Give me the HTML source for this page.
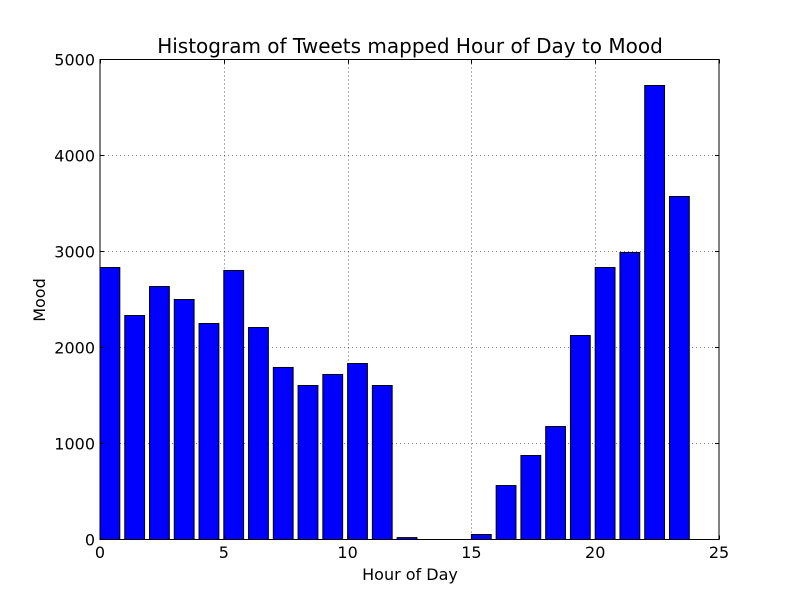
<!DOCTYPE html>
<html><head><meta charset="utf-8"><style>
html,body{margin:0;padding:0;background:#fff;}
svg{display:block;font-family:"DejaVu Sans","Liberation Sans",sans-serif;}
</style></head><body>
<svg id="chart" width="800" height="600" xmlns="http://www.w3.org/2000/svg">
<rect x="0" y="0" width="800" height="600" fill="#fff"/>
<g id="grid"></g>
<g id="bars"></g>
<rect x="100" y="59.5" width="619" height="480" fill="none" stroke="#000" stroke-width="1"/>
<g id="ticks"></g>
<text x="410" y="53" text-anchor="middle" font-size="20">Histogram of Tweets mapped Hour of Day to Mood</text>
<text x="410" y="580" text-anchor="middle" font-size="16">Hour of Day</text>
<text x="45" y="300" text-anchor="middle" font-size="16" transform="rotate(-90 45 300)">Mood</text>
</svg>
<script>
const hours = [0,1,2,3,4,5,6,7,8,9,10,11,12,13,14,15,16,17,18,19,20,21,22,23];
const moodValues = [2833,2333,2635,2500,2250,2802,2208,1792,1604,1719,1833,1604,20,0,0,52,562,875,1177,2125,2833,2990,4729,3573];
const xTicks = [0,5,10,15,20,25];
const yTicks = [0,1000,2000,3000,4000,5000];
const barWidth = 0.8;

const NS = "http://www.w3.org/2000/svg";
const X0 = 100, X1 = 719, Y0 = 539.5, Y1 = 59.5;
const xScale = v => X0 + (v - 0) / 25 * (X1 - X0);
const yScale = v => Y0 - v / 5000 * (Y0 - Y1);
function mk(tag, attrs, parent) {
  const e = document.createElementNS(NS, tag);
  for (const k in attrs) e.setAttribute(k, attrs[k]);
  parent.appendChild(e);
  return e;
}
const grid = document.getElementById('grid');
const ticks = document.getElementById('ticks');
const bars = document.getElementById('bars');

xTicks.forEach(t => {
  const x = Math.round(xScale(t)) + 0.5;
  if (t > 0 && t < 25) {
    const g = mk('line', {x1:x, x2:x, y1:Y1, y2:Y0, stroke:'#000', 'stroke-width':0.6, 'stroke-dasharray':'1,3'}, grid);
    
    
  }
  const a = mk('line', {x1:x, x2:x, y1:Y0, y2:Y0-4, stroke:'#000'}, ticks);
  
  
  const b = mk('line', {x1:x, x2:x, y1:Y1, y2:Y1+4, stroke:'#000'}, ticks);
  
  
  const l = mk('text', {x:xScale(t), y:558, 'text-anchor':'middle', 'font-size':16}, ticks);
  l.textContent = t;
  
  
});
yTicks.forEach(t => {
  const y = Math.round(yScale(t) - 0.5) + 0.5;
  if (t > 0 && t < 5000) {
    const g = mk('line', {x1:X0, x2:X1, y1:y, y2:y, stroke:'#000', 'stroke-width':0.6, 'stroke-dasharray':'1,3'}, grid);
    
    
  }
  const a = mk('line', {x1:X0, x2:X0+4, y1:y, y2:y, stroke:'#000'}, ticks);
  
  
  const b = mk('line', {x1:X1, x2:X1-4, y1:y, y2:y, stroke:'#000'}, ticks);
  
  
  const l = mk('text', {x:95, y:yScale(t)+6, 'text-anchor':'end', 'font-size':16}, ticks);
  l.textContent = t;
  
  
});
hours.forEach((h, i) => {
  const x = xScale(h), w = xScale(h + barWidth) - x;
  const y = yScale(moodValues[i]);
  const r = mk('rect', {x:x, y:y, width:w, height:Math.max(0, Y0 - y), fill:'#0000ff', stroke:'#000', 'stroke-width':1}, bars);
  
  
});
</script>
</body></html>
